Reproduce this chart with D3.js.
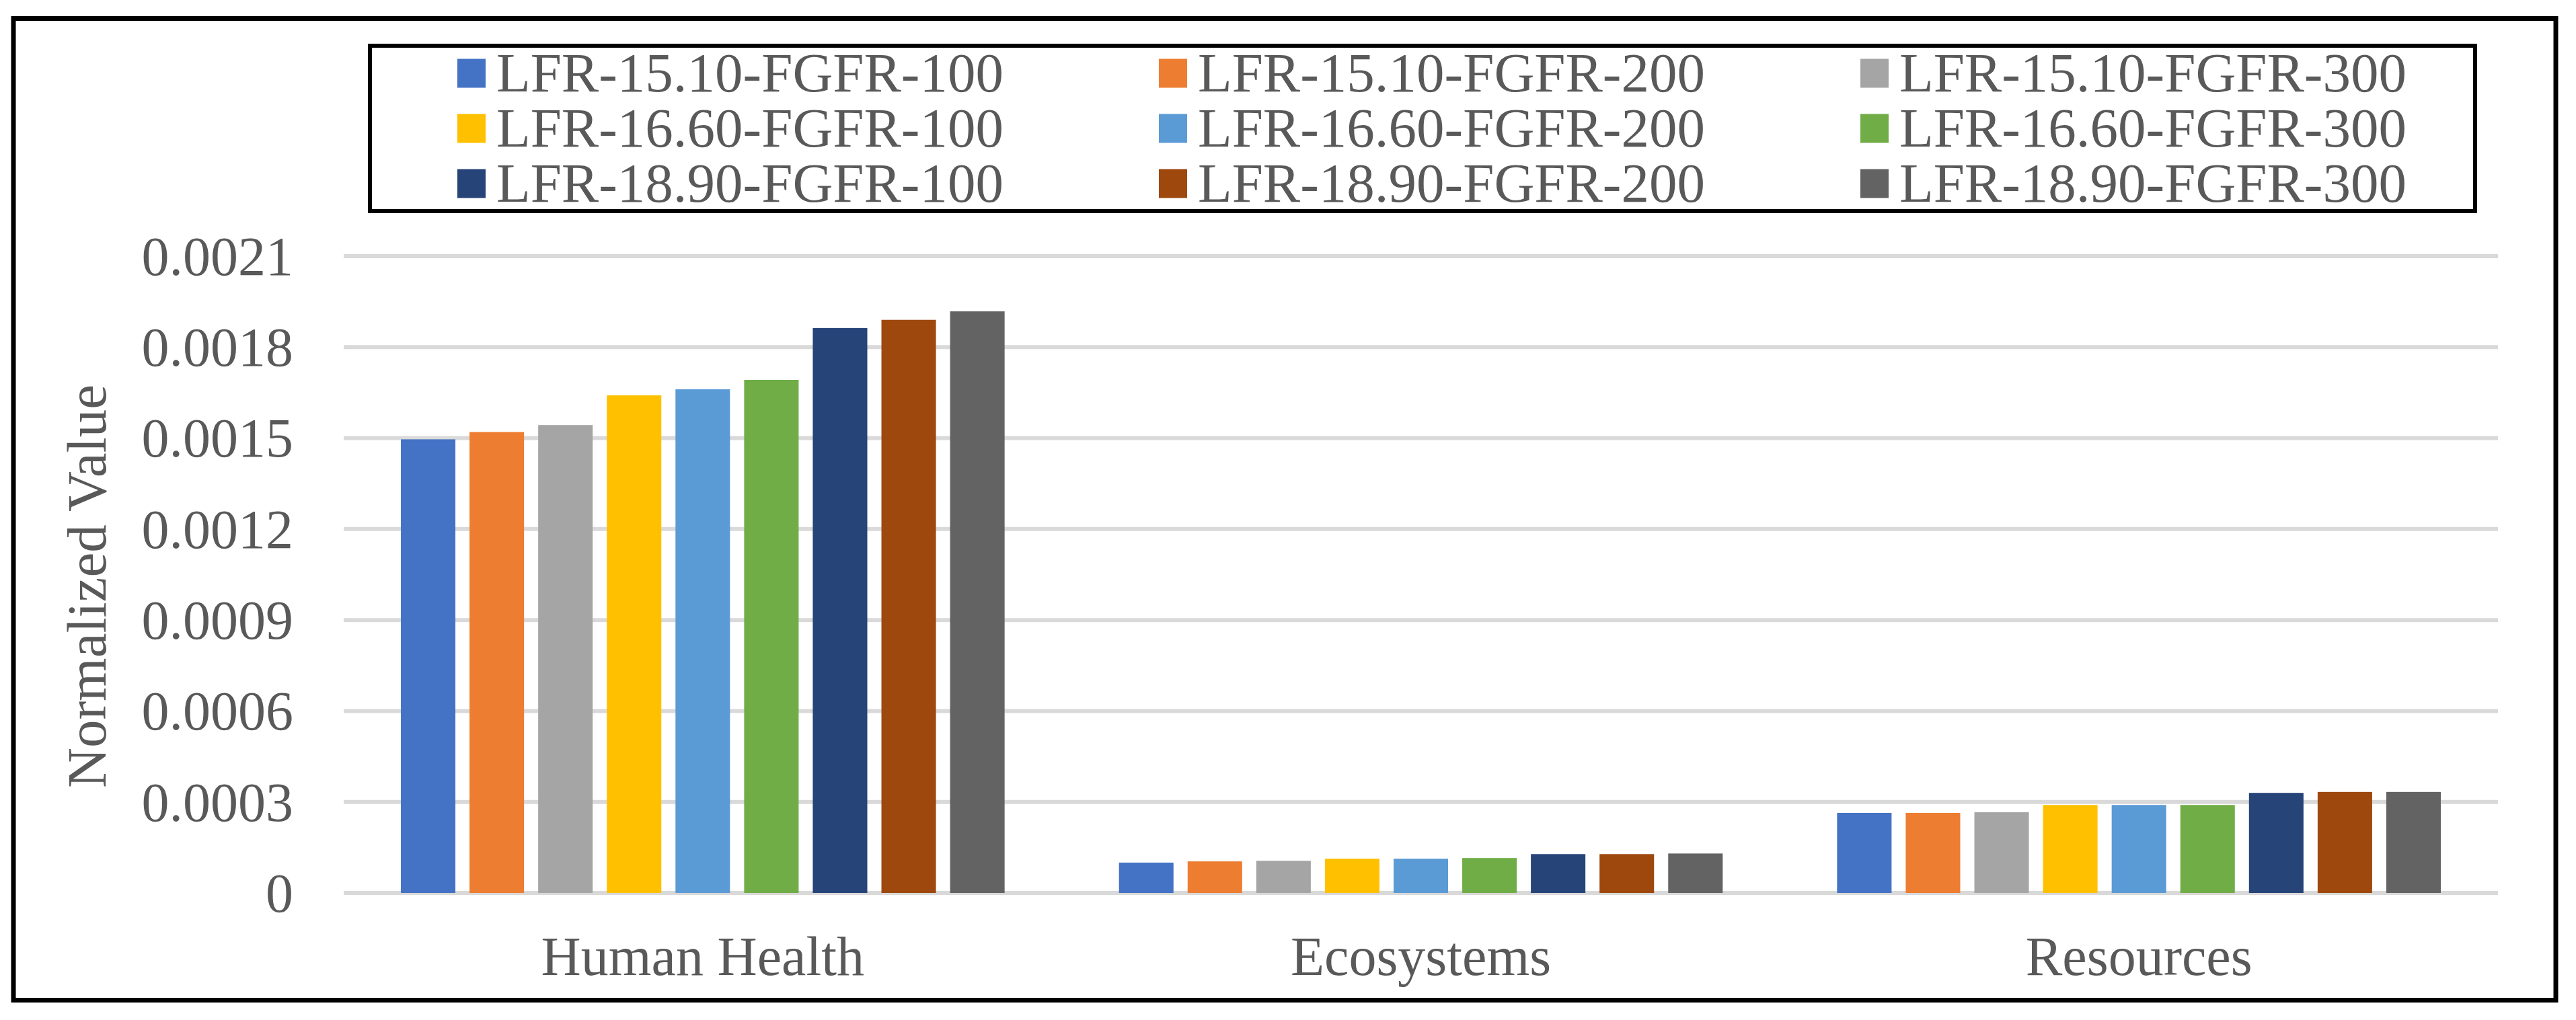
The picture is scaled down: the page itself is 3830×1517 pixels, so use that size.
<!DOCTYPE html>
<html>
<head>
<meta charset="utf-8">
<script src="https://cdn.jsdelivr.net/npm/d3@7"></script>
<style>
  html, body { margin: 0; padding: 0; background: #fff; }
  text { font-family: "Liberation Serif", "Times New Roman", serif; fill: #595959; }
</style>
</head>
<body>
<div id="vis"></div>
<script>
const categories = ["Human Health", "Ecosystems", "Resources"];
const series = [
  "LFR-15.10-FGFR-100", "LFR-15.10-FGFR-200", "LFR-15.10-FGFR-300",
  "LFR-16.60-FGFR-100", "LFR-16.60-FGFR-200", "LFR-16.60-FGFR-300",
  "LFR-18.90-FGFR-100", "LFR-18.90-FGFR-200", "LFR-18.90-FGFR-300"
];
const colors = [
  "#4472C4", "#ED7D31", "#A5A5A5",
  "#FFC000", "#5B9BD5", "#70AD47",
  "#264478", "#9E480E", "#636363"
];
// one array per category, in series order
const humanHealth = [0.001496, 0.00152, 0.001543, 0.001641, 0.001661, 0.001692, 0.001863, 0.00189, 0.001918];
const ecosystems = [0.0001, 0.000104, 0.000106, 0.000113, 0.000113, 0.000115, 0.000128, 0.000128, 0.00013];
const resources = [0.000264, 0.000264, 0.000266, 0.00029, 0.00029, 0.00029, 0.00033, 0.000333, 0.000333];
const yTicks = [0, 0.0003, 0.0006, 0.0009, 0.0012, 0.0015, 0.0018, 0.0021];
const yTickLabels = ["0", "0.0003", "0.0006", "0.0009", "0.0012", "0.0015", "0.0018", "0.0021"];

const values = [humanHealth, ecosystems, resources];

const w = 3830,
  h = 1517,
  fontSize = 82;

const svg = d3
  .select("#vis")
  .append("svg")
  .attr("width", w)
  .attr("height", h);

// outer frame
svg
  .append("rect")
  .attr("x", 20)
  .attr("y", 27.5)
  .attr("width", 3780)
  .attr("height", 1460)
  .attr("fill", "none")
  .attr("stroke", "#000")
  .attr("stroke-width", 7);

const x0 = d3.scaleBand().domain(categories).range([511, 3714]);
const x1 = d3
  .scaleBand()
  .domain(series)
  .range([0, x0.bandwidth()])
  .paddingInner(0.206)
  .paddingOuter(0.833);
const y = d3.scaleLinear().domain([0, 0.0021]).range([1328, 381]);

// gridlines
svg
  .append("g")
  .selectAll("line")
  .data(yTicks)
  .join("line")
  .attr("x1", 511)
  .attr("x2", 3714)
  .attr("y1", d => y(d))
  .attr("y2", d => y(d))
  .attr("stroke", "#d9d9d9")
  .attr("stroke-width", 6);

// y tick labels
svg
  .append("g")
  .selectAll("text")
  .data(yTicks)
  .join("text")
  .attr("x", 436)
  .attr("y", d => y(d))
  .attr("dy", "0.34em")
  .attr("text-anchor", "end")
  .attr("font-size", fontSize)
  .text((d, i) => yTickLabels[i]);

svg
  .append("text")
  .attr("transform", "translate(157,872) rotate(-90)")
  .attr("text-anchor", "middle")
  .attr("font-size", 83)
  .text("Normalized Value");

// bars
const groups = svg
  .append("g")
  .selectAll("g")
  .data(categories)
  .join("g")
  .attr("transform", d => `translate(${x0(d)},0)`);

groups
  .selectAll("rect")
  .data((d, i) => values[i].map((v, j) => ({ key: series[j], v: v, c: colors[j] })))
  .join("rect")
  .attr("x", d => x1(d.key))
  .attr("width", x1.bandwidth())
  .attr("y", d => y(d.v))
  .attr("height", d => y(0) - y(d.v))
  .attr("fill", d => d.c);

// category labels
svg
  .append("g")
  .selectAll("text")
  .data(categories)
  .join("text")
  .attr("x", d => x0(d) + x0.bandwidth() / 2)
  .attr("y", 1450)
  .attr("text-anchor", "middle")
  .attr("font-size", fontSize)
  .text(d => d);

// legend
svg
  .append("rect")
  .attr("x", 550)
  .attr("y", 68)
  .attr("width", 3130)
  .attr("height", 246)
  .attr("fill", "none")
  .attr("stroke", "#000")
  .attr("stroke-width", 6);

const legend = svg
  .append("g")
  .selectAll("g")
  .data(series)
  .join("g")
  .attr("transform", (d, i) => `translate(${680 + (i % 3) * 1043},${109 + Math.floor(i / 3) * 82})`);

legend
  .append("rect")
  .attr("x", 0)
  .attr("y", -21.5)
  .attr("width", 42)
  .attr("height", 43)
  .attr("fill", (d, i) => colors[i]);

legend
  .append("text")
  .attr("x", 58)
  .attr("y", 27)
  .attr("font-size", 83)
  .text(d => d);
</script>
</body>
</html>
